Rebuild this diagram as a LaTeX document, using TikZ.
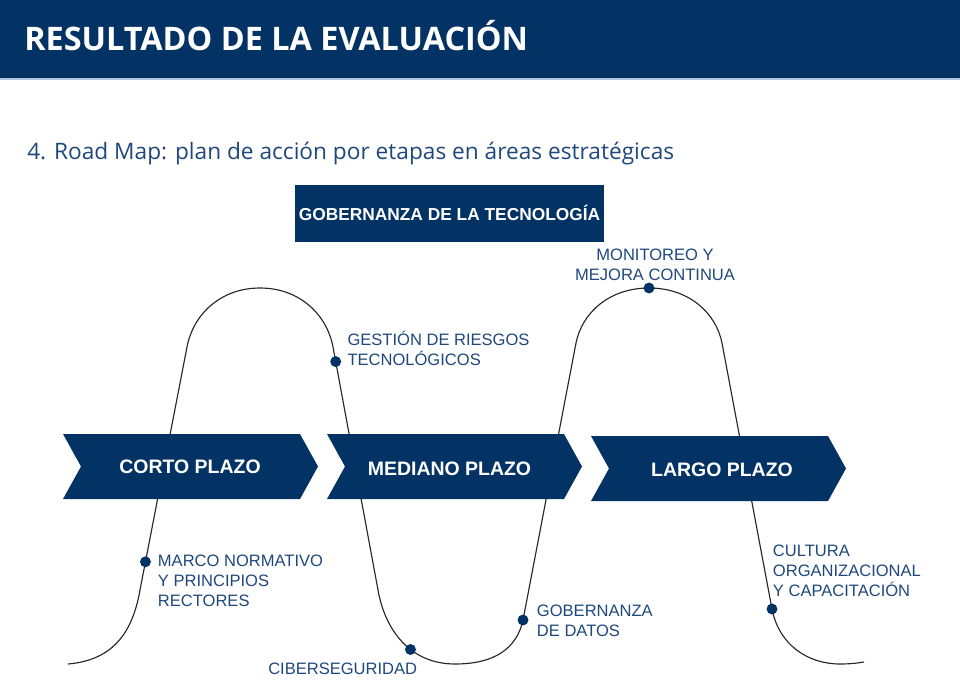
\documentclass[tikz,border=0pt]{standalone}
\usepackage{fontspec}
\setmainfont{Liberation Sans}
\newfontfamily\opensans{Open Sans}
\usetikzlibrary{calc,positioning}
\definecolor{navy}{RGB}{3,51,101}
\definecolor{labeltext}{RGB}{30,72,124}
\definecolor{headline}{RGB}{178,196,222}
\tikzset{
bandtitle/.style={ anchor=base west, inner sep=0pt, text=white, font=\opensans\bfseries\fontsize{24.3}{28}\selectfont},
subtitle/.style={ anchor=base west, inner sep=0pt, text=labeltext, font=\opensans\fontsize{17}{20}\selectfont},
areabox/.style={ rectangle, fill=navy, text=white, minimum width=231.75pt, minimum height=42.4pt, inner sep=0pt, font=\bfseries\fontsize{13}{16}\selectfont},
chevron/.style={ fill=navy},
plazo/.style={ text=white, inner sep=0pt, font=\bfseries\fontsize{14.6}{17}\selectfont},
wave/.style={ draw=black!85, line width=0.85pt},
punto/.style={ circle, fill=navy, minimum size=8.2pt, inner sep=0pt},
hito/.style={ anchor=base west, inner sep=0pt, align=left, text=labeltext, font=\fontsize{12.4}{15}\selectfont},
}
\begin{document}
\begin{tikzpicture}
[x=0.75pt, y=-0.75pt]
\useasboundingbox (0,0) rectangle (960,679);

\fill[navy] (0,0) rectangle (960,78);
\fill[headline] (0,78) rectangle (960,80);
\node[bandtitle] (titulo) at (24,50) {RESULTADO DE LA EVALUACIÓN};
\node[subtitle] (roadmap) at (27,159.3) {4. Road Map: plan de acción por etapas en áreas estratégicas};

\node[areabox] (gobtec) at (449.5,213.3) {GOBERNANZA DE LA TECNOLOGÍA};

\draw[wave] (68,664) .. controls (115,660) and (133,630) .. (140,590)
  -- (187,347) coordinate[pos=0.116] (pMarco)
  .. controls (193,315) and (220,288) .. (260,288)
  .. controls (300,288) and (327,315) .. (333,347)
  -- (378,590) coordinate[pos=0.06] (pGestion)
  .. controls (385,630) and (410,664) .. (455,664) coordinate[pos=0.6] (pCiber)
  .. controls (495,664) and (517,648) .. (523,620) coordinate (pGobDatos)
  -- (576,343)
  .. controls (582,313) and (609,288) .. (649,288) coordinate (pMonitor)
  .. controls (689,288) and (716,313) .. (722,343)
  -- (772,609) coordinate (pCultura)
  .. controls (779,645) and (808,664) .. (840,664)
  .. controls (850,664) and (858,663) .. (864,662);

\foreach \x/\y in {63/434, 327/434, 591/436}
  \fill[chevron] (\x,\y) -- ++(237,0) -- ++(18,32.5) -- ++(-18,32.5) -- ++(-237,0) -- ++(18,-32.5) -- cycle;
\node[plazo] (corto) at (190,467) {CORTO PLAZO};
\node[plazo] (mediano) at (449.5,469) {MEDIANO PLAZO};
\node[plazo] (largo) at (722,470) {LARGO PLAZO};

\foreach \p in {pMarco, pGestion, pCiber, pGobDatos, pMonitor, pCultura}
  \node[punto] (d\p) at (\p) {};

\node[hito] (marco) at (157.7,606.7) {MARCO NORMATIVO\\Y PRINCIPIOS\\RECTORES};
\node[hito] (gestion) at (347.3,365) {GESTIÓN DE RIESGOS\\TECNOLÓGICOS};
\node[hito] (ciber) at (268,674.7) {CIBERSEGURIDAD};
\node[hito] (gobdatos) at (536.7,636.7) {GOBERNANZA\\DE DATOS};
\node[hito, anchor=base, align=center] (monitoreo) at (655,280) {MONITOREO Y\\MEJORA CONTINUA};
\node[hito] (cultura) at (772.7,596.7) {CULTURA\\ORGANIZACIONAL\\Y CAPACITACIÓN};

\end{tikzpicture}
\end{document}
